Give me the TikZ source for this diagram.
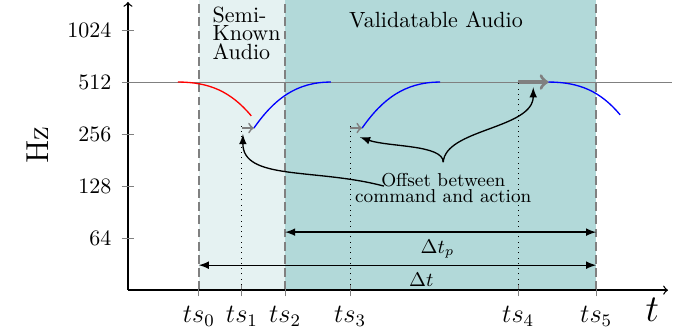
\documentclass[tikz,border=0pt]{standalone}
\begin{document}
\begin{tikzpicture}[x=0.831cm, y=0.831cm]
    \useasboundingbox (-2.46,-0.73) rectangle (10.88,5.577);

    % Regions
    \fill[teal!10] (1.36,0) rectangle (3.02,5.577);
    \fill[teal!30] (3.02,0) rectangle (9.0,5.577);
    \foreach \x in {1.36,3.02,9.0} {
        \draw[gray, thick, dash pattern=on 4pt off 2pt] (\x,0) -- (\x,5.577);
    }
    \node[anchor=north west, align=left, font=\fontsize{10}{8.6}\selectfont, inner sep=0pt] (semi) at (1.62,5.46) {Semi-\\Known\\Audio};
    \node (valid) at (5.92,5.19) {Validatable Audio};

    % Axes
    \draw[semithick, ->] (0,0) -- (10.38,0);
    \draw[semithick, ->] (0,0) -- (0,5.54);
    \node[rotate=90, font=\Large] (hz) at (-1.73,2.79) {Hz};
    \node[font=\LARGE] (tlab) at (10.08,-0.38) {$t$};
    \foreach \y/\f in {1/64, 2/128, 3/256, 4/512, 5/1024} {
        \draw[gray] (-0.12,\y) -- (0.12,\y);
        \node[anchor=east] (f\f) at (-0.17,\y) {\f};
    }
    \foreach \x/\n in {1.36/0, 2.19/1, 3.02/2, 4.27/3, 7.5/4, 9.0/5} {
        \draw[gray] (\x,-0.12) -- (\x,0.12);
        \node[font=\large] (ts\n) at (\x,-0.5) {$ts_{\n}$};
    }
    \draw[gray] (0,4) -- (10.46,4);

    % Tones
    \draw[red, semithick] (0.96,4) to[out=0, in=130] (2.37,3.35);
    \draw[blue, semithick] (2.42,3.115) to[out=55, in=180] (3.9,4);
    \draw[blue, semithick] (4.5,3.115) to[out=55, in=180] (6.0,4);
    \draw[blue, semithick] (8.08,4) to[out=0, in=130] (9.46,3.37);
    \draw[gray, thick, ->] (2.19,3.115) -- (2.42,3.115);
    \draw[gray, thick, ->] (4.27,3.115) -- (4.5,3.115);
    \draw[gray, line width=1.5pt, ->] (7.5,4) -- (8.08,4);
    \draw[dotted] (2.19,0) -- (2.19,3.2);
    \draw[dotted] (4.27,0) -- (4.27,3.2);
    \draw[dotted] (7.5,0) -- (7.5,4);

    % Offset
    \node[font=\fontsize{8.5}{7.2}\selectfont, align=center] (offset) at (6.06,1.96) {Offset between\\command and action};
    \coordinate (brace) at (6.06,2.46);
    \coordinate (from) at (4.92,2.0);
    \coordinate (hit1) at (2.21,3.0);
    \coordinate (hit3) at (4.46,2.94);
    \coordinate (hit4) at (7.79,3.9);
    \draw[semithick, -latex] (from) .. controls (3.6,2.35) and (2.2,2.1) .. (hit1);
    \draw[semithick, -latex] (brace) .. controls (6.06,2.8) and (5.0,2.75) .. (hit3);
    \draw[semithick, -latex] (brace) .. controls (6.1,3.1) and (7.79,3.1) .. (hit4);

    % Durations
    \draw[semithick, latex-latex] (3.02,1.115) -- (9.0,1.115) node[pos=0.49, below, font=\small] (dtp) {$\Delta t_p$};
    \draw[semithick, latex-latex] (1.36,0.48) -- (9.0,0.48) node[pos=0.56, below, font=\small] (dt) {$\Delta t$};

\end{tikzpicture}
\end{document}
